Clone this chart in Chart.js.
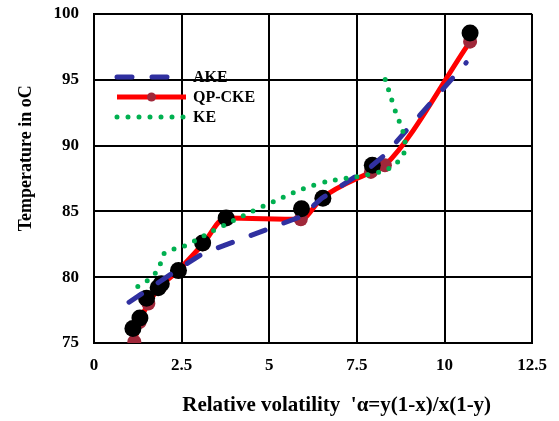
<!DOCTYPE html>
<html>
<head>
<meta charset="utf-8">
<script src="https://cdn.jsdelivr.net/npm/chart.js@4.4.1/dist/chart.umd.min.js"></script>
<style>
  html, body { margin: 0; padding: 0; background: #ffffff; }
  #wrap { width: 559px; height: 421px; }
</style>
</head>
<body>
<div id="wrap"><canvas id="c" width="559" height="421"></canvas></div>
<script>
// ---- data ----
const xTickValues = [0, 2.5, 5, 7.5, 10, 12.5];
const yTickValues = [75, 80, 85, 90, 95, 100];

const akeX = [1.0, 2.4, 3.1, 5.9, 6.5, 7.9, 8.3, 10.62];
const akeY = [78.1, 80.6, 81.8, 84.6, 86.0, 88.4, 89.3, 96.3];

const qpX = [1.15, 1.3, 1.55, 1.9, 2.4, 3.1, 3.75, 5.9, 6.5, 7.9, 8.3, 10.73];
const qpY = [75.1, 76.6, 78.0, 79.3, 80.5, 82.5, 84.5, 84.4, 86.0, 88.0, 88.5, 97.9];

const keX = [1.25, 1.6, 1.85, 2.0, 2.6, 3.6, 5.0, 6.4, 8.0, 8.6, 8.88, 8.55, 8.25];
const keY = [79.3, 79.9, 80.7, 81.8, 82.4, 83.8, 85.6, 87.1, 87.9, 88.6, 90.0, 93.0, 95.5];

const expX = [1.11, 1.31, 1.5, 1.83, 1.92, 2.41, 3.1, 3.77, 5.92, 6.53, 7.94, 10.73];
const expY = [76.1, 76.9, 78.4, 79.2, 79.5, 80.5, 82.6, 84.5, 85.2, 86.0, 88.5, 98.55];

const legendOrder = ['AKE', 'QP-CKE', 'KE'];
const xTitle = 'Relative volatility  \'\u03b1=y(1-x)/x(1-y)';
const yTitle = 'Temperature in oC';

const toPts = (xs, ys) => xs.map((x, i) => ({ x: x, y: ys[i] }));

const FONT = '"Liberation Serif", "Times New Roman", serif';

const legendPlugin = {
  id: 'inLegend',
  afterDraw(chart) {
    const ctx = chart.ctx;
    const x0 = 117, x1 = 186, tx = 193;
    let y = 77;
    legendOrder.forEach(lbl => {
      const ds = chart.data.datasets.find(d => d.label === lbl);
      ctx.save();
      ctx.strokeStyle = ds.borderColor;
      ctx.lineWidth = ds.borderWidth;
      ctx.setLineDash(ds.borderDash || []);
      ctx.lineCap = ds.borderCapStyle || 'butt';
      ctx.beginPath();
      ctx.moveTo(x0, y);
      ctx.lineTo(x1, y);
      ctx.stroke();
      if (ds.pointRadius > 0) {
        ctx.setLineDash([]);
        ctx.fillStyle = ds.pointBackgroundColor;
        ctx.beginPath();
        ctx.arc((x0 + x1) / 2, y, 4.5, 0, Math.PI * 2);
        ctx.fill();
      }
      ctx.fillStyle = '#000';
      ctx.font = 'bold 16px ' + FONT;
      ctx.textBaseline = 'middle';
      ctx.textAlign = 'left';
      ctx.fillText(lbl, tx, y + 1);
      ctx.restore();
      y += 20;
    });
  }
};

new Chart(document.getElementById('c'), {
  type: 'scatter',
  data: {
    datasets: [
      {
        label: 'KE',
        data: toPts(keX, keY),
        showLine: true,
        borderColor: '#00B050',
        borderWidth: 5,
        borderDash: [0, 11],
        borderCapStyle: 'round',
        tension: 0.4,
        pointRadius: 0,
        fill: false
      },
      {
        label: 'AKE',
        data: toPts(akeX, akeY),
        showLine: true,
        borderColor: '#3030A0',
        borderWidth: 5,
        borderDash: [15, 20],
        borderCapStyle: 'round',
        tension: 0,
        pointRadius: 0,
        fill: false
      },
      {
        label: 'Experimental',
        data: toPts(expX, expY),
        showLine: false,
        pointRadius: 8.5,
        pointBackgroundColor: '#000000',
        pointBorderWidth: 0,
        borderColor: '#000000'
      },
      {
        label: 'QP-CKE',
        data: toPts(qpX, qpY),
        showLine: true,
        borderColor: '#FF0000',
        borderWidth: 5,
        cubicInterpolationMode: 'monotone',
        pointRadius: 7,
        pointBackgroundColor: '#A0283A',
        pointBorderWidth: 0,
        fill: false
      }
    ]
  },
  options: {
    responsive: false,
    animation: false,
    events: [],
    layout: { padding: { top: 14, right: 25, bottom: 0, left: 0 } },
    plugins: {
      legend: { display: false },
      tooltip: { enabled: false }
    },
    scales: {
      x: {
        type: 'linear',
        min: xTickValues[0],
        max: xTickValues[xTickValues.length - 1],
        afterBuildTicks: s => { s.ticks = xTickValues.map(v => ({ value: v })); },
        afterFit: s => { s.height = 78; },
        grid: { color: '#000', lineWidth: 2, drawTicks: false },
        border: { color: '#000', width: 2 },
        ticks: { color: '#000', padding: 12, font: { family: FONT, size: 17, weight: 'bold' } },
        title: {
          display: true,
          text: '         ' + xTitle,
          color: '#000',
          padding: { top: 0, bottom: 3 },
          font: { family: FONT, size: 21, weight: 'bold' }
        }
      },
      y: {
        type: 'linear',
        min: yTickValues[0],
        max: yTickValues[yTickValues.length - 1],
        afterBuildTicks: s => { s.ticks = yTickValues.map(v => ({ value: v })); },
        afterFit: s => { s.width = 94; s.paddingTop = 0; s.paddingBottom = 0; },
        grid: { color: '#000', lineWidth: 2, drawTicks: false },
        border: { color: '#000', width: 2 },
        ticks: { color: '#000', padding: 15, font: { family: FONT, size: 17, weight: 'bold' } },
        title: {
          display: true,
          text: '         ' + yTitle,
          color: '#000',
          padding: { top: 16, bottom: 0 },
          font: { family: FONT, size: 18, weight: 'bold' }
        }
      }
    }
  },
  plugins: [legendPlugin]
});
</script>
</body>
</html>
